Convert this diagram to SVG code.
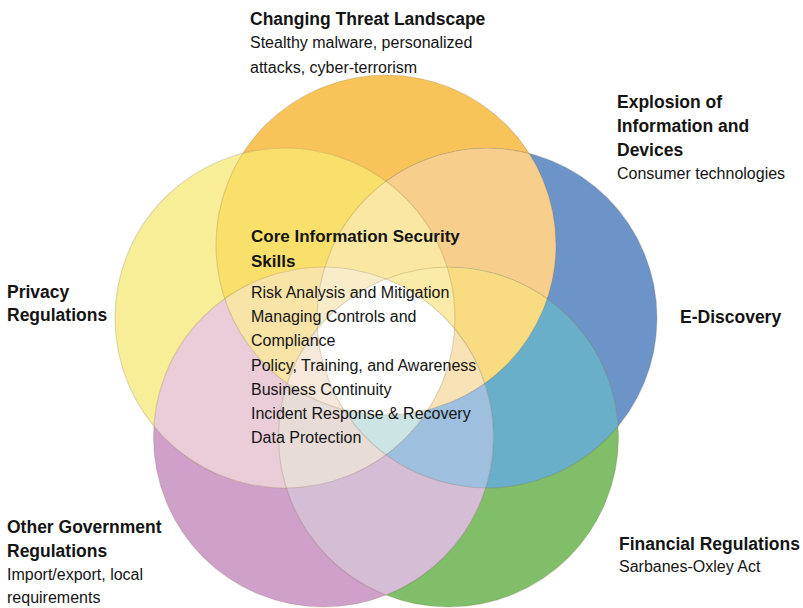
<svg xmlns="http://www.w3.org/2000/svg" width="803" height="608" viewBox="0 0 803 608">
<style>
text{font-family:"Liberation Sans",Arial,sans-serif;fill:#141414}
.h{font-weight:bold;font-size:17.5px}
.hc{font-weight:bold;font-size:17px}
.t{font-size:16px}
.ol{fill:none;stroke:#7a6a4a;stroke-opacity:.22;stroke-width:1.2}
</style>
<defs>
<clipPath id="cO"><circle cx="386" cy="245" r="170"/></clipPath>
<clipPath id="cB"><circle cx="487" cy="318" r="170"/></clipPath>
<clipPath id="cG"><circle cx="448.5" cy="437" r="170"/></clipPath>
<clipPath id="cP"><circle cx="323.5" cy="437" r="170"/></clipPath>
<clipPath id="cY"><circle cx="285" cy="318" r="170"/></clipPath>
</defs>
<rect width="803" height="608" fill="#fff"/>
<g id="venn">
<g id="singles">
<circle cx="386" cy="245" r="170" fill="#F8C45A"/>
<circle cx="487" cy="318" r="170" fill="#6C94C9"/>
<circle cx="448.5" cy="437" r="170" fill="#80BE69"/>
<circle cx="323.5" cy="437" r="170" fill="#CFA0CA"/>
<circle cx="285" cy="318" r="170" fill="#F8EE97"/>
</g>
<g id="pairs">
<g clip-path="url(#cB)"><circle cx="386" cy="245" r="170" fill="#F8CE8C"/></g>
<g clip-path="url(#cG)"><circle cx="487" cy="318" r="170" fill="#6AAFCA"/></g>
<g clip-path="url(#cP)"><circle cx="448.5" cy="437" r="170" fill="#D5BDD6"/></g>
<g clip-path="url(#cY)"><circle cx="323.5" cy="437" r="170" fill="#EBCDD9"/></g>
<g clip-path="url(#cO)"><circle cx="285" cy="318" r="170" fill="#F9E06A"/></g>
</g>
<g id="triples">
<g clip-path="url(#cY)"><g clip-path="url(#cB)"><circle cx="386" cy="245" r="170" fill="#FAE8A2"/></g></g>
<g clip-path="url(#cO)"><g clip-path="url(#cG)"><circle cx="487" cy="318" r="170" fill="#F9DC82"/></g></g>
<g clip-path="url(#cB)"><g clip-path="url(#cP)"><circle cx="448.5" cy="437" r="170" fill="#9EBFDE"/></g></g>
<g clip-path="url(#cG)"><g clip-path="url(#cY)"><circle cx="323.5" cy="437" r="170" fill="#E7DCD8"/></g></g>
<g clip-path="url(#cP)"><g clip-path="url(#cO)"><circle cx="285" cy="318" r="170" fill="#F9E4A8"/></g></g>
</g>
<g id="quads">
<g clip-path="url(#cB)"><g clip-path="url(#cG)"><g clip-path="url(#cP)"><circle cx="285" cy="318" r="170" fill="#CDE4E4"/></g></g></g>
<g clip-path="url(#cG)"><g clip-path="url(#cP)"><g clip-path="url(#cY)"><circle cx="386" cy="245" r="170" fill="#F6E8DA"/></g></g></g>
<g clip-path="url(#cO)"><g clip-path="url(#cB)"><g clip-path="url(#cP)"><circle cx="285" cy="318" r="170" fill="#F9ECC8"/></g></g></g>
<g clip-path="url(#cO)"><g clip-path="url(#cB)"><g clip-path="url(#cG)"><circle cx="285" cy="318" r="170" fill="#FAEBA8"/></g></g></g>
<g clip-path="url(#cO)"><g clip-path="url(#cB)"><g clip-path="url(#cG)"><circle cx="323.5" cy="437" r="170" fill="#F9E2B6"/></g></g></g>
</g>
<g id="center" clip-path="url(#cO)"><g clip-path="url(#cB)"><g clip-path="url(#cG)"><g clip-path="url(#cP)"><circle cx="285" cy="318" r="170" fill="#FFFFFF"/></g></g></g></g>
<g id="outlines">
<circle class="ol" cx="386" cy="245" r="170"/>
<circle class="ol" cx="487" cy="318" r="170"/>
<circle class="ol" cx="448.5" cy="437" r="170"/>
<circle class="ol" cx="323.5" cy="437" r="170"/>
<circle class="ol" cx="285" cy="318" r="170"/>
</g>
</g>
<g id="threat">
<text class="h" x="250" y="25">Changing Threat Landscape</text>
<text class="t" x="250" y="48">Stealthy malware, personalized</text>
<text class="t" x="250" y="73">attacks, cyber-terrorism</text>
</g>
<g id="explosion">
<text class="h" x="617" y="108">Explosion of</text>
<text class="h" x="617" y="132">Information and</text>
<text class="h" x="617" y="156">Devices</text>
<text class="t" x="617" y="179">Consumer technologies</text>
</g>
<g id="ediscovery">
<text class="h" x="680" y="323">E-Discovery</text>
</g>
<g id="financial">
<text class="h" x="619" y="550">Financial Regulations</text>
<text class="t" x="619" y="572">Sarbanes-Oxley Act</text>
</g>
<g id="othergov">
<text class="h" x="7" y="533">Other Government</text>
<text class="h" x="7" y="557">Regulations</text>
<text class="t" x="7" y="580">Import/export, local</text>
<text class="t" x="7" y="603">requirements</text>
</g>
<g id="privacy">
<text class="h" x="7" y="298">Privacy</text>
<text class="h" x="7" y="321">Regulations</text>
</g>
<g id="core">
<text class="hc" x="251" y="242">Core Information Security</text>
<text class="hc" x="251" y="267">Skills</text>
<text class="t" x="251" y="298">Risk Analysis and Mitigation</text>
<text class="t" x="251" y="322">Managing Controls and</text>
<text class="t" x="251" y="346">Compliance</text>
<text class="t" x="251" y="371">Policy, Training, and Awareness</text>
<text class="t" x="251" y="395">Business Continuity</text>
<text class="t" x="251" y="419">Incident Response &amp; Recovery</text>
<text class="t" x="251" y="443">Data Protection</text>
</g>
</svg>
